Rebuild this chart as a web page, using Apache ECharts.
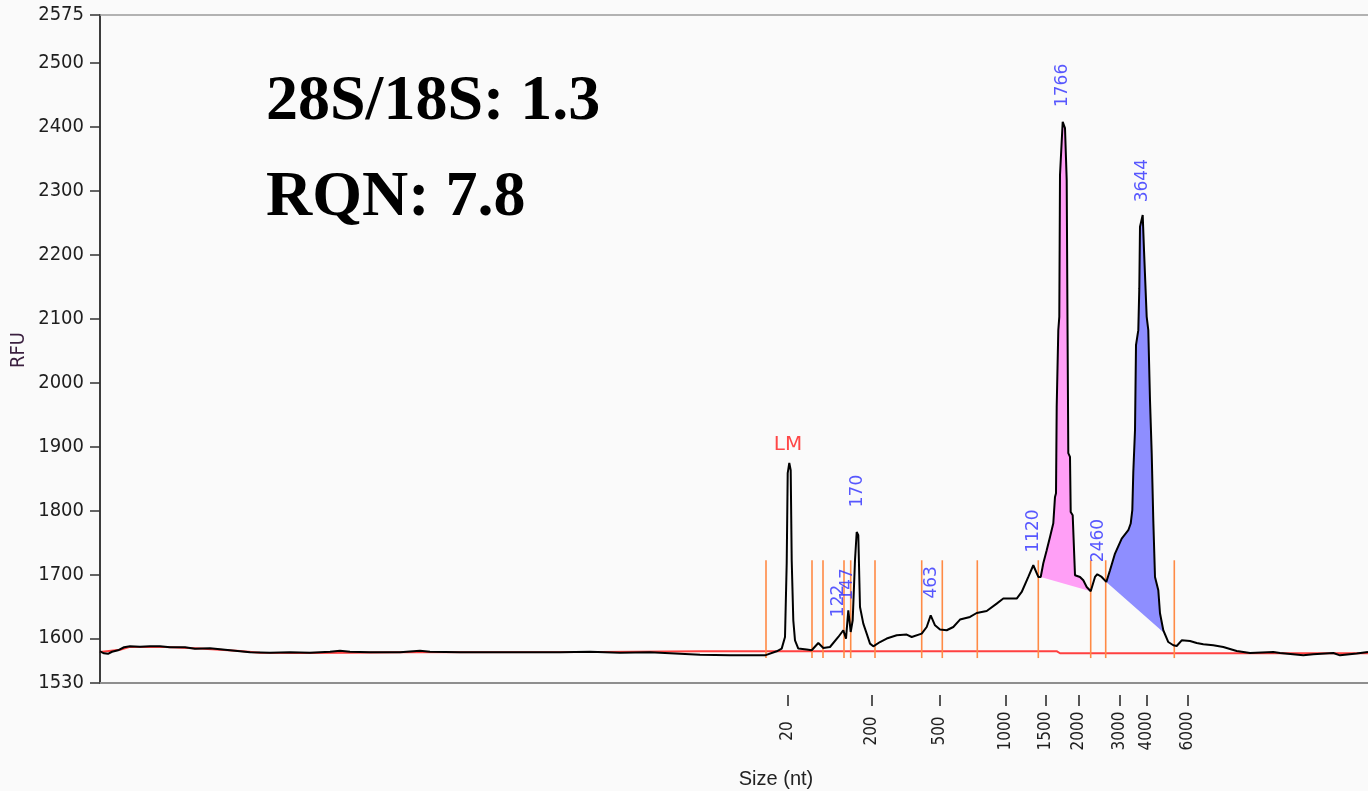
<!DOCTYPE html>
<html>
<head>
<meta charset="utf-8">
<script src="https://cdn.jsdelivr.net/npm/echarts@6/dist/echarts.min.js"></script>
<style>
html,body{margin:0;padding:0;background:#fafafa;}
#c{width:1368px;height:791px;}
</style>
</head>
<body>
<div id="c"></div>
<script>
// ---- data ----
// migration position (arbitrary units along the run) and RFU signal
const migX = [0,4,8,12,18,24,30,40,50,60,70,85,95,110,120,135,150,170,190,210,230,240,250,270,300,320,330,360,400,430,460,490,520,550,580,600,630,660,665,676.7,681.7,685,686.7,687.7,689.3,690.7,691.7,693.3,695,698.3,706.7,711.7,718.3,723.3,730,738.3,743.3,746,748.3,750.7,752.7,755,756.7,758.3,760,763.3,766.7,770,773.3,780,786.7,796.7,806.7,811.7,821.7,826.7,830.7,835,840,846.7,853.3,860,870,876.7,886.7,896.7,903.3,916.7,921.7,928.3,933.3,938.3,940.7,943.3,946.7,950,953.3,955,956,956.7,958.3,959.3,960,962.7,965,966.7,967.5,968.3,970,970.7,972.7,975,980,983.3,986.7,990.7,995,997.3,1001.7,1006.3,1010,1015,1021.7,1028.3,1030.7,1032.3,1033.3,1035,1036,1038.3,1039.3,1040,1042.7,1044,1046.7,1048.3,1050,1051.7,1053.3,1055,1058.3,1060,1063.3,1068.3,1073.3,1076.7,1081.7,1090,1096.7,1103.3,1113.3,1123.3,1136.7,1150,1173.3,1180,1203.3,1213.3,1233.3,1240,1256.7,1268];
const rfu = [1579.6,1576.5,1575.7,1578.9,1581.2,1585.9,1587.5,1586.7,1587.5,1587.5,1585.9,1585.9,1583.5,1584.3,1582.8,1580.4,1578.0,1577.2,1578.0,1577.2,1578.8,1580.4,1578.8,1578.0,1578.0,1580.4,1578.8,1578.0,1578.0,1578.0,1578.0,1578.8,1577.2,1578.0,1575.7,1574.1,1573.3,1573.3,1573.3,1579.6,1583.8,1602,1717.3,1858.2,1874.3,1862.9,1722,1628.1,1596.8,1583.8,1582.3,1581.2,1592.6,1584.8,1586.3,1602,1612.5,1599.5,1643.8,1609.8,1628.1,1722,1766.3,1761.1,1648.9,1622.9,1607.3,1591.6,1587.4,1594.1,1599.5,1604.6,1605.7,1602,1607.3,1617.6,1635.9,1620.3,1613.6,1612.5,1617.6,1629.2,1633.3,1639.5,1642.7,1654.2,1662.1,1662.1,1672.4,1695.9,1714.2,1695.9,1695.9,1717.3,1737.7,1758.5,1779.9,1821.1,1826.9,1961.9,2082,2102.8,2324.6,2408,2398.1,2316.8,2093,1889.5,1883.7,1797.6,1792.4,1698.5,1695.9,1690.7,1680.2,1673.5,1695.9,1700.1,1695.9,1688.1,1706.4,1732.5,1756,1769,1779.5,1800.3,1860.2,1925.5,2058.5,2082,2147.7,2243.7,2262,2207.2,2102.8,2082,1972.4,1889.5,1784.6,1695.9,1675.1,1639.1,1612.5,1594.1,1589,1587.9,1596.8,1595.7,1592.6,1590.6,1589,1586.3,1580.1,1576.9,1578.5,1576.9,1573.3,1574.9,1576.9,1573.3,1576,1578.5];
// baseline (red)
const baseX = [0,20,30,65,100,140,160,200,250,300,500,600,957,960,1268];
const baseRfu = [1578.5,1582,1586.5,1586.5,1584,1580,1577.5,1577,1577.5,1578,1578.5,1579.6,1579.6,1576.5,1576.5];
// peak integration cut positions (orange)
const cutX = [666,712,723,744,750.7,775,821.7,842.3,877.3,938.3,990.7,1005.7,1074.3];
const cutLow = 1569, cutHigh = 1722;
// rRNA peak areas: start, start baseline, end, end baseline
const areaFrom = [940.7, 1006.3];
const areaFromBase = [1695.9, 1688.1];
const areaTo = [990.7, 1064.5];
const areaToBase = [1673.5, 1608];
// peak labels (anchor in data coords)
const peakNames = ['LM','122','147','170','463','1120','1766','2460','3644'];
const peakLabelX = [688,739,748,758,832,934,963,999,1043];
const peakLabelV = [1902,1633,1659,1805,1662,1734,2431,1719,2282];
// axis ticks
const sizeTickX = [688,772,840,906,946,979,1020,1047,1088];
const sizeTickLabels = ['20','200','500','1000','1500','2000','3000','4000','6000'];
const rfuTicks = [1530,1600,1700,1800,1900,2000,2100,2200,2300,2400,2500,2575];

// ---- chart ----
const trace = migX.map((x,i)=>[x, rfu[i]]);
const base = baseX.map((x,i)=>[x, baseRfu[i]]);
const areaColors = ['#ff9ff6','#8e8eff'];
const narrow = '"DejaVu Sans Condensed","DejaVu Sans",sans-serif';

const chart = echarts.init(document.getElementById('c'), null, {renderer:'canvas'});
chart.setOption({
  backgroundColor:'#fafafa',
  animation:false,
  grid:{left:100,right:0,top:15,bottom:108,containLabel:false,outerBoundsMode:'none'},
  xAxis:[
    {type:'value',min:0,max:1268,position:'bottom',
     axisLine:{show:true,lineStyle:{color:'#8e8e8e',width:2}},
     axisTick:{show:false},axisLabel:{show:false},splitLine:{show:false}},
    {type:'value',min:0,max:1268,position:'bottom',offset:12,
     axisLine:{show:false},
     axisTick:{show:true,customValues:sizeTickX,length:11,lineStyle:{color:'#222',width:1.5}},
     axisLabel:{show:true,customValues:sizeTickX,rotate:90,align:'center',verticalAlign:'middle',margin:36,
       color:'#1e1e1e',fontFamily:narrow,fontSize:17,hideOverlap:false,
       formatter:(v)=>{const i=sizeTickX.indexOf(v);return i>=0?sizeTickLabels[i]:'';}},
     splitLine:{show:false}},
    {type:'value',min:0,max:1268,position:'top',
     axisLine:{show:true,lineStyle:{color:'#9a9a9a',width:1.5}},
     axisTick:{show:false},axisLabel:{show:false},splitLine:{show:false}}
  ],
  yAxis:{type:'value',min:1530,max:2575,
    axisLine:{show:true,lineStyle:{color:'#3c3c3c',width:2}},
    axisTick:{show:true,customValues:rfuTicks,length:10,lineStyle:{color:'#333',width:1.5}},
    axisLabel:{show:true,customValues:rfuTicks,margin:16,color:'#1e1e1e',fontFamily:narrow,fontSize:20,hideOverlap:false,
      formatter:(v)=>String(v)},
    splitLine:{show:false}},
  series:[
    {type:'custom',name:'areas',xAxisIndex:0,z:1,
     data:areaFrom.map((f,i)=>[f,i]),
     renderItem:(params,api)=>{
       const i=api.value(1);
       const pts=[api.coord([areaFrom[i],areaFromBase[i]])];
       for(let k=0;k<migX.length;k++){
         if(migX[k]>=areaFrom[i]&&migX[k]<=areaTo[i]) pts.push(api.coord([migX[k],rfu[k]]));
       }
       pts.push(api.coord([areaTo[i],areaToBase[i]]));
       return {type:'polygon',shape:{points:pts},style:{fill:areaColors[i],stroke:null}};
     }},
    {type:'line',name:'baseline',data:base,showSymbol:false,z:2,
     lineStyle:{color:'#ff4040',width:2}},
    {type:'custom',name:'cuts',xAxisIndex:0,z:3,
     data:cutX.map(x=>[x]),
     renderItem:(params,api)=>{
       const x=api.value(0);
       const p1=api.coord([x,cutLow]), p2=api.coord([x,cutHigh]);
       return {type:'line',shape:{x1:p1[0],y1:p1[1],x2:p2[0],y2:p2[1]},style:{stroke:'#ff8a45',lineWidth:1.6}};
     }},
    {type:'line',name:'signal',data:trace,showSymbol:false,z:4,
     lineStyle:{color:'#000',width:2}},
    {type:'scatter',name:'labels',z:5,symbolSize:1,itemStyle:{color:'rgba(0,0,0,0)'},
     data:peakNames.map((n,i)=>{
       const item={value:[peakLabelX[i],peakLabelV[i],n]};
       if(n==='LM') item.label={rotate:0,align:'center',verticalAlign:'middle',color:'#ff1a1a',fontSize:20};
       return item;
     }),
     label:{show:true,position:'inside',rotate:90,align:'left',verticalAlign:'middle',
       color:'#2e2eff',fontFamily:'"DejaVu Sans",sans-serif',fontSize:17,
       formatter:(p)=>p.value[2]}}
  ],
  graphic:[
    {type:'text',x:266,y:70,style:{text:'28S/18S: 1.3',font:'bold 64px "Liberation Serif", "Times New Roman", serif',fill:'#000',textVerticalAlign:'top'}},
    {type:'text',x:266,y:166,style:{text:'RQN: 7.8',font:'bold 64px "Liberation Serif", "Times New Roman", serif',fill:'#000',textVerticalAlign:'top'}},
    {type:'text',x:19,y:350,rotation:Math.PI/2,style:{text:'RFU',font:'20px '+narrow,fill:'#3a1f3f',textAlign:'center',textVerticalAlign:'middle'}},
    {type:'text',x:776,y:779,style:{text:'Size (nt)',font:'20px "Liberation Sans", Arial, sans-serif',fill:'#222',textAlign:'center',textVerticalAlign:'middle'}}
  ]
});
</script>
</body>
</html>
